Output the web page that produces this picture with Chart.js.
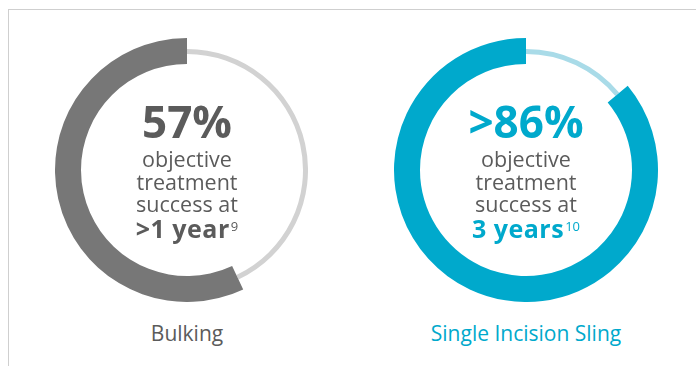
<!DOCTYPE html>
<html>
<head>
<meta charset="utf-8">
<script src="https://cdn.jsdelivr.net/npm/chart.js@4/dist/chart.umd.min.js"></script>
<style>
  html, body { margin: 0; padding: 0; background: #fff; }
  body { width: 696px; height: 366px; position: relative; overflow: hidden; font-family: "Open Sans", sans-serif; }
  .frame { position: absolute; left: 8px; top: 9px; width: 700px; height: 400px; border-top: 1px solid #cfcfcf; border-left: 1px solid #cfcfcf; }
  canvas.c { position: absolute; }
  .center { position: absolute; width: 240px; text-align: center; color: #5b5b5b; }
  .big { font-weight: 700; font-size: 44px; line-height: 44px; margin-bottom: 5px; }
  .txt { font-size: 21.5px; line-height: 22.5px; }
  .em { font-weight: 700; font-size: 25px; line-height: 24px; letter-spacing: 0.5px; }
  .em sup { font-size: 13px; font-weight: 400; vertical-align: top; position: relative; top: -2px; margin-left: 1px; letter-spacing: 0; }
  .label { position: absolute; width: 300px; text-align: center; font-size: 21px; top: 319px; }
</style>
</head>
<body>
<div class="frame"></div>

<canvas class="c" id="thin0"></canvas>
<canvas class="c" id="thick0"></canvas>
<canvas class="c" id="thin1"></canvas>
<canvas class="c" id="thick1"></canvas>

<div class="center" id="ctr0"></div>
<div class="center" id="ctr1"></div>
<div class="label" id="lab0"></div>
<div class="label" id="lab1"></div>

<script>
// ---- data ----
const categories = ["Bulking", "Single Incision Sling"];
const successValues = [57, 86];          // objective treatment success (%)
const valuePrefixes = ["", ">"];
const followUpLabels = [">1 year", "3 years"];
const footnotes = ["9", "10"];
const descriptionLines = ["objective", "treatment", "success at"];

// ---- style ----
const mainColors = ["#777777", "#00a9cc"];
const trackColors = ["#d2d2d2", "#a9dbe8"];
const textColors = ["#5b5b5b", "#00a9cc"];
const centersX = [187, 526];
const centerY = 170;
const outerR = 132, innerR = 106;     // thick arc
const thinOuter = 121, thinInner = 116; // thin track

function makeDonut(id, size, cutoutPct, data, colors) {
  const cv = document.getElementById(id);
  cv.width = size; cv.height = size;
  cv.style.width = size + "px"; cv.style.height = size + "px";
  return new Chart(cv, {
    type: "doughnut",
    data: {
      labels: ["remaining", "success"],
      datasets: [{ data: data, backgroundColor: colors, borderWidth: 0, hoverOffset: 0 }]
    },
    options: {
      responsive: false,
      animation: false,
      events: [],
      cutout: cutoutPct + "%",
      rotation: 0,
      layout: { padding: 0 },
      plugins: { legend: { display: false }, tooltip: { enabled: false } }
    }
  });
}

categories.forEach((cat, i) => {
  const v = successValues[i];
  const rest = 100 - v;
  const cx = centersX[i];
  const thin = document.getElementById("thin" + i);
  thin.style.left = (cx - thinOuter) + "px";
  thin.style.top = (centerY - thinOuter) + "px";
  makeDonut("thin" + i, thinOuter * 2, thinInner / thinOuter * 100, [rest, v], [trackColors[i], "rgba(0,0,0,0)"]);
  const thick = document.getElementById("thick" + i);
  thick.style.left = (cx - outerR) + "px";
  thick.style.top = (centerY - outerR) + "px";
  makeDonut("thick" + i, outerR * 2, innerR / outerR * 100, [rest, v], ["rgba(0,0,0,0)", mainColors[i]]);

  const ctr = document.getElementById("ctr" + i);
  ctr.style.left = (cx - 120) + "px";
  ctr.style.top = "99px";
  const big = document.createElement("div");
  big.className = "big";
  big.style.color = textColors[i];
  big.textContent = valuePrefixes[i] + v + "%";
  ctr.appendChild(big);
  descriptionLines.forEach(t => {
    const d = document.createElement("div");
    d.className = "txt";
    d.textContent = t;
    ctr.appendChild(d);
  });
  const em = document.createElement("div");
  em.className = "em";
  em.style.color = textColors[i];
  em.appendChild(document.createTextNode(followUpLabels[i]));
  const sup = document.createElement("sup");
  sup.textContent = footnotes[i];
  em.appendChild(sup);
  ctr.appendChild(em);

  const lab = document.getElementById("lab" + i);
  lab.style.left = (cx - 150) + "px";
  lab.style.color = textColors[i];
  lab.textContent = cat;
});
</script>
</body>
</html>
